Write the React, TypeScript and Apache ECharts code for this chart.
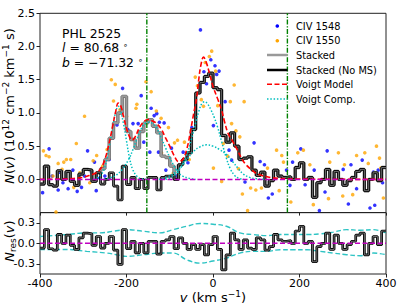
import React, { useEffect, useRef } from 'react';
import * as echarts from 'echarts';

// ---------- data ----------
const binStart = -400;
const binWidth = 10;

// Stacked (No MS) column density per 10 km/s bin, from -400 to 400
const stackedNoMS: number[] = [
  -0.07, 0.2, -0.08, -0.1, 0.13, 0.0, 0.12, -0.03, -0.09, 0.08,
  0.15, 0.14, -0.03, 0.1, -0.07, 0.0, 0.1, -0.1, -0.31, 0.2,
  -0.08, 0.03, -0.14, 0.0, -0.14, 0.03, 0.03, -0.16, 0.03, 0.05,
  0.06, 0.0, 0.22, 0.3, 0.4, 0.75, 1.3, 1.46, 1.55, 1.6,
  1.38, 1.35, 0.66, 0.56, 0.7, 0.5, 0.3, 0.32, 0.34, 0.14,
  0.06, 0.11, -0.1, -0.02, 0.14, 0.05, 0.03, 0.04, 0.0, 0.18,
  0.25, 0.0, 0.03, -0.27, -0.05, 0.0, 0.15, -0.09, 0.12, 0.0,
  -0.09, -0.02, 0.03, 0.12, 0.15, -0.17, 0.0, 0.1, -0.02, 0.18,
];

// Stacked (with MS) column density per bin
const stacked: number[] = [
  -0.07, 0.2, -0.08, -0.1, 0.13, 0.0, 0.12, -0.03, -0.09, 0.08,
  0.15, 0.14, -0.03, 0.1, 0.16, 0.3, 0.62, 0.85, 1.0, 1.25,
  0.72, 0.6, 0.47, 0.72, 0.85, 0.9, 0.8, 0.7, 0.35, 0.33,
  0.2, 0.0, 0.22, 0.3, 0.4, 0.75, 1.3, 1.46, 1.55, 1.6,
  1.38, 1.35, 0.66, 0.56, 0.7, 0.5, 0.3, 0.32, 0.34, 0.14,
  0.06, 0.11, -0.1, -0.02, 0.14, 0.05, 0.03, 0.04, 0.0, 0.18,
  0.25, 0.0, 0.03, -0.27, -0.05, 0.0, 0.15, -0.09, 0.12, 0.0,
  -0.09, -0.02, 0.03, 0.12, 0.15, -0.17, 0.0, 0.1, -0.02, 0.18,
];

// Residuals per bin
const residual: number[] = [
  -0.07, 0.2, -0.08, -0.1, 0.13, 0.0, 0.12, -0.03, -0.09, 0.08,
  0.15, 0.14, -0.03, 0.1, -0.07, 0.0, 0.1, -0.1, -0.31, 0.2,
  -0.08, 0.03, -0.14, 0.0, -0.14, 0.03, 0.03, -0.16, 0.03, 0.05,
  0.1, -0.08, 0.08, 0.0, -0.09, -0.02, -0.09, -0.02, -0.17, -0.02,
  0.1, -0.09, -0.39, -0.17, 0.15, 0.05, -0.09, 0.05, -0.07, -0.09,
  0.08, 0.05, -0.1, -0.05, 0.13, 0.05, 0.03, 0.04, 0.0, 0.18,
  0.25, 0.0, 0.03, -0.27, -0.05, 0.0, 0.15, -0.09, 0.12, 0.0,
  -0.09, -0.02, 0.03, 0.12, 0.15, -0.17, 0.0, 0.1, -0.02, 0.18,
];

// CIV 1548 apparent column density points [v, N]
const civ1548: number[][] = [
  [-394, -0.2], [-379, 0.46], [-372, 0.05], [-358, -0.16], [-355, 0.11], [-347, -0.05],
  [-335, -0.14], [-324, 0.14], [-314, -0.18], [-304, -0.12], [-297, 0.05], [-290, 0.43],
  [-281, 0.11], [-274, 0.26], [-270, -0.17], [-262, 0.02], [-250, 0.05], [-240, 0.3],
  [-232, 0.62], [-222, 0.82], [-209, 1.37], [-197, 0.75], [-185, 0.84], [-173, 0.84],
  [-166, 1.26], [-160, 0.56], [-146, 0.41], [-143, 1.07], [-136, 0.96], [-130, 0.99],
  [-124, 0.86], [-113, 0.85], [-126, 0.41], [-109, 0.14], [-96, 0.47], [-84, 0.05],
  [-69, 0.41], [-58, 0.25], [-49, 0.78], [-29, 2.25], [-21, 1.62], [-15, 1.44],
  [-5, 1.8], [4.6, 1.71], [8.5, 1.58], [14, 1.63], [28, 1.17], [1, 0.81],
  [37, 0.44], [43, 0.29], [74, -0.04], [95, 0.55], [109, 0.27], [119, 0.22],
  [128, -0.28], [137, -0.22], [170, 0.14], [178, -0.09], [184, 0.26], [203, 0.46],
  [213, -0.08], [234, 0.14], [246, -0.47], [259, -0.19], [264, 0.43], [280, 0.02],
  [301, 0.15], [313, -0.37], [319, 0.22], [332, -0.14], [345, 0.29], [363, -0.43],
  [371, 0.11], [374, -0.39], [382, 0.14], [392, -0.05],
];

// CIV 1550 apparent column density points [v, N]
const civ1550: number[][] = [
  [-392, 0.43], [-386, 0.36], [-379, 0.34], [-370, 0.05], [-363, -0.49], [-358, 0.24],
  [-349, 0.15], [-345, 0.26], [-339, 0.3], [-329, 0.3], [-322, -0.12], [-316, 0.54],
  [-308, 0.1], [-297, 0.95], [-285, -0.05], [-277, 0.28], [-269, 0.36], [-255, 0.2],
  [-245, 0.45], [-235, 1.5], [-226, 1.43], [-230, 1.18], [-215, 1.05], [-200, 0.95],
  [-190, 0.6], [-178, 1.07], [-176, 1.13], [-155, 1.47], [-143, 1.32], [-131, 1.03],
  [-120, 0.92], [-119, 0.4], [-103, 0.78], [-92, 0.09], [-89, 0.55], [-82, 0.59],
  [-66, 0.56], [-55, 0.3], [-41, 1.54], [-36, 1.41], [-27, 1.2], [-22, 1.1],
  [-18, 1.76], [-8.5, 1.85], [-3, 1.93], [6, 1.63], [11, 1.11], [40, 1.17],
  [49, 1.42], [72, 1.17], [1, 0.17], [20, -0.03], [24, 0.54], [34, 0.35],
  [43, 0.84], [53, 0.73], [62, 0.64], [59, 0.16], [68, -0.22], [80, -0.47],
  [87, -0.13], [99, -0.16], [112, -0.13], [126, 0.17], [147, 0.44], [153, -0.17],
  [159, 0.36], [163, 0.26], [180, -0.34], [196, 0.4], [209, 0.44], [224, 0.22],
  [232, -0.38], [267, -0.29], [270, 0.26], [290, 0.4], [300, -0.25], [304, 0.22],
  [323, -0.23], [332, 0.36], [351, 0.4], [359, 0.24], [378, 0.5], [385, 0.32],
  [388, 0.17], [394, -0.28],
];

// Voigt model (total)
const voigtModel: number[][] = [
  [-400, 0], [-350, 0.005], [-320, 0.015], [-300, 0.03], [-290, 0.05], [-280, 0.07],
  [-270, 0.1], [-260, 0.16], [-250, 0.3], [-240, 0.55], [-232, 0.8], [-225, 1.02],
  [-219, 1.15], [-213, 1.1], [-206, 0.92], [-200, 0.77], [-193, 0.64], [-187, 0.59],
  [-180, 0.64], [-170, 0.78], [-160, 0.87], [-150, 0.9], [-140, 0.88], [-130, 0.84],
  [-120, 0.76], [-110, 0.63], [-100, 0.5], [-90, 0.36], [-80, 0.27], [-70, 0.3],
  [-60, 0.47], [-52, 0.73], [-45, 0.98], [-38, 1.22], [-33, 1.5], [-28, 1.72],
  [-22, 1.84], [-15, 1.75], [-7, 1.57], [0, 1.4], [12, 1.19], [20, 1.04],
  [27, 0.86], [35, 0.69], [45, 0.58], [55, 0.46], [65, 0.33], [75, 0.23],
  [90, 0.14], [100, 0.09], [113, 0.06], [125, 0.04], [136, 0.025], [150, 0.015],
  [175, 0.008], [200, 0.005], [250, 0.002], [400, 0],
];

// Voigt components
const voigtComp1: number[][] = [
  [-275, 0], [-262, 0.05], [-252, 0.15], [-244, 0.35], [-237, 0.6], [-230, 0.86],
  [-224, 1.04], [-219, 1.1], [-214, 1.04], [-207, 0.84], [-200, 0.58], [-193, 0.32],
  [-185, 0.14], [-175, 0.04], [-165, 0.01], [-150, 0],
];
const voigtComp2: number[][] = [
  [-260, 0], [-240, 0.02], [-225, 0.06], [-210, 0.15], [-195, 0.3], [-185, 0.45],
  [-175, 0.62], [-165, 0.77], [-155, 0.85], [-148, 0.86], [-140, 0.84], [-130, 0.77],
  [-120, 0.63], [-110, 0.48], [-100, 0.33], [-90, 0.2], [-80, 0.1], [-70, 0.05],
  [-55, 0.015], [-40, 0],
];
const voigtComp3: number[][] = [
  [-110, 0], [-100, 0.02], [-88, 0.07], [-75, 0.17], [-62, 0.35], [-50, 0.6],
  [-40, 0.85], [-32, 1.04], [-25, 1.15], [-19, 1.17], [-12, 1.13], [-5, 1.05],
  [3, 0.93], [10, 0.8], [20, 0.57], [30, 0.34], [40, 0.16], [50, 0.06],
  [60, 0.015], [72, 0],
];
const voigtComp4: number[][] = [
  [-125, 0], [-104, 0.04], [-85, 0.12], [-65, 0.26], [-45, 0.42], [-30, 0.49],
  [-15, 0.52], [0, 0.5], [15, 0.45], [30, 0.38], [45, 0.27], [60, 0.15],
  [70, 0.08], [85, 0.03], [100, 0.01], [120, 0],
];

// Residual error envelope
const envUpper: number[][] = [
  [-400, 0.1], [-338, 0.128], [-292, 0.153], [-261, 0.153], [-230, 0.177], [-200, 0.2],
  [-161, 0.177], [-123, 0.153], [-92, 0.2], [-61, 0.25], [-30, 0.29], [0, 0.28],
  [31, 0.25], [62, 0.153], [93, 0.128], [124, 0.113], [155, 0.128], [186, 0.128],
  [217, 0.128], [247, 0.138], [278, 0.163], [309, 0.2], [340, 0.192], [371, 0.2],
  [400, 0.153],
];
const envLower: number[][] = [
  [-400, -0.09], [-338, -0.09], [-292, -0.118], [-246, -0.143], [-223, -0.167],
  [-200, -0.192], [-161, -0.167], [-123, -0.143], [-92, -0.143], [-61, -0.241],
  [-30, -0.29], [0, -0.26], [31, -0.217], [62, -0.143], [93, -0.118], [124, -0.118],
  [155, -0.094], [186, -0.094], [217, -0.094], [247, -0.118], [278, -0.143],
  [309, -0.167], [340, -0.182], [371, -0.143], [400, -0.167],
];

const msBoundaries: number[] = [-153, 172];
const topYTicks: number[] = [0, 0.5, 1, 1.5, 2, 2.5];
const resYTicks: number[] = [-0.3, 0, 0.3];

// ---------- helpers ----------
const toSteps = (vals: number[]) => {
  const d = vals.map((v, i) => [binStart + i * binWidth, v]);
  d.push([binStart + vals.length * binWidth, vals[vals.length - 1]]);
  return d;
};

const FONT = 'DejaVu Sans';
const C_CYAN = '#00bfbf';
const C_MAG = '#bf00bf';

export default function App() {
  const ref = useRef<HTMLDivElement>(null);
  useEffect(() => {
    if (!ref.current) return;
    const chart = echarts.init(ref.current, undefined, { renderer: 'svg' });

    const gL = 40, gW = 346, gT = 13.3, gH1 = 199.3, gH2 = 61.4;

    const axisCommon = {
      axisLine: { show: false, onZero: false },
      splitLine: { show: false },
    };

    const lineSeries = (name: string, data: number[][], style: any, extra: any = {}) => ({
      type: 'line', name, data, showSymbol: false, symbol: 'none',
      lineStyle: style, silent: true, ...extra,
    });

    const comps = [voigtComp1, voigtComp2, voigtComp3, voigtComp4].map((c, i) =>
      lineSeries('Voigt Comp.' + i, c, { color: C_CYAN, width: 1.5, type: [1.5, 1.8] }, { smooth: 0.4, z: 4 }));

    const option: any = {
      animation: false,
      grid: [
        { left: gL, top: gT, width: gW, height: gH1, show: true, borderColor: '#222', borderWidth: 1, backgroundColor: 'transparent' },
        { left: gL, top: gT + gH1, width: gW, height: gH2, show: true, borderColor: '#222', borderWidth: 1, backgroundColor: 'transparent' },
      ],
      xAxis: [
        {
          gridIndex: 0, type: 'value', position: 'bottom', min: -400, max: 400, interval: 200, ...axisCommon,
          axisTick: { show: true, length: 3, lineStyle: { color: '#222' } },
          axisLabel: { show: false },
        },
        {
          gridIndex: 1, type: 'value', position: 'bottom', min: -400, max: 400, interval: 200, ...axisCommon,
          axisTick: { show: true, length: 3.5, lineStyle: { color: '#222' } },
          axisLabel: { show: true, color: '#000', fontFamily: FONT, fontSize: 11, margin: 4 },
        },
      ],
      yAxis: [
        {
          gridIndex: 0, type: 'value', position: 'left', min: -0.5, max: 2.5, ...axisCommon,
          axisTick: { show: true, length: 3.5, customValues: topYTicks, lineStyle: { color: '#222' } },
          axisLabel: { show: true, customValues: topYTicks, color: '#000', fontFamily: FONT, fontSize: 11, margin: 5,
            formatter: (v: number) => v.toFixed(1) },
        },
        {
          gridIndex: 1, type: 'value', position: 'left', min: -0.45, max: 0.45, ...axisCommon,
          axisTick: { show: true, length: 3.5, customValues: resYTicks, lineStyle: { color: '#222' } },
          axisLabel: { show: true, customValues: resYTicks, color: '#000', fontFamily: FONT, fontSize: 11, margin: 5,
            formatter: (v: number) => v.toFixed(1) },
        },
      ],
      series: [
        { type: 'scatter', name: 'CIV 1548', data: civ1548, symbol: 'circle', symbolSize: 3.6, itemStyle: { color: '#0000ff' }, z: 2, silent: true },
        { type: 'scatter', name: 'CIV 1550', data: civ1550, symbol: 'circle', symbolSize: 3.6, itemStyle: { color: '#ffa500' }, z: 2, silent: true },
        lineSeries('stacked-edge', toSteps(stacked), { color: '#6a6a6a', width: 3.4 }, { step: 'end', z: 3 }),
        lineSeries('Stacked', toSteps(stacked), { color: '#999999', width: 2.0 }, { step: 'end', z: 3 }),
        lineSeries('Stacked (No MS)', toSteps(stackedNoMS), { color: '#000', width: 2.7 }, { step: 'end', z: 3 }),
        lineSeries('noms-core', toSteps(stackedNoMS), { color: '#8a8a8a', width: 0.8 }, { step: 'end', z: 3 }),
        lineSeries('Voigt Model', voigtModel, { color: '#ff0000', width: 1.6, type: [5, 2.5] }, { smooth: 0.4, z: 5 }),
        ...comps,
        lineSeries('zero', [[-400, 0], [400, 0]], { color: C_MAG, width: 1.5, type: [5, 2.5] }, { z: 6 }),
        ...msBoundaries.map((v, i) =>
          lineSeries('ms' + i, [[v, -0.5], [v, 2.5]], { color: '#008000', width: 1.4, type: [5, 1.6, 1.2, 1.6] }, { z: 6 })),
        // residual panel
        lineSeries('env-up', envUpper, { color: '#2ec4c4', width: 1.4, type: [5, 2.5] }, { smooth: 0.4, xAxisIndex: 1, yAxisIndex: 1, z: 3 }),
        lineSeries('env-lo', envLower, { color: '#2ec4c4', width: 1.4, type: [5, 2.5] }, { smooth: 0.4, xAxisIndex: 1, yAxisIndex: 1, z: 3 }),
        lineSeries('res', toSteps(residual), { color: '#000', width: 2.7 }, { step: 'end', xAxisIndex: 1, yAxisIndex: 1, z: 4 }),
        lineSeries('res-core', toSteps(residual), { color: '#8a8a8a', width: 0.8 }, { step: 'end', xAxisIndex: 1, yAxisIndex: 1, z: 4 }),
        lineSeries('res-zero', [[-400, 0], [400, 0]], { color: C_MAG, width: 1.5, type: [5, 2.5] }, { xAxisIndex: 1, yAxisIndex: 1, z: 6 }),
      ],
      graphic: [] as any[],
    };

    // annotation text
    const txt = (x: number, y: number, text: string, rich: any, size: number, align = 'left') => ({
      type: 'text', x, y, silent: true, z: 100,
      style: { text, rich, fontFamily: FONT, fontSize: size, fill: '#000', align, verticalAlign: 'middle' },
    });
    const annRich = {
      i: { fontFamily: FONT, fontSize: 12.4, fontStyle: 'italic', fill: '#000' },
      n: { fontFamily: FONT, fontSize: 12.4, fill: '#000' },
      d: { fontFamily: FONT, fontSize: 8, fill: '#000', verticalAlign: 'top', lineHeight: 8 },
    };
    option.graphic.push(txt(62, 33, 'PHL 2525', annRich, 12.4));
    option.graphic.push(txt(62, 47.5, '{i|l}{n| = 80.68 }{d|∘}', annRich, 12.4));
    option.graphic.push(txt(62, 62, '{i|b}{n| = −71.32 }{d|∘}', annRich, 12.4));

    // legend
    const legY = [26, 40.7, 55, 70, 84.3, 99];
    const legText = ['CIV 1548', 'CIV 1550', 'Stacked', 'Stacked (No MS)', 'Voigt Model', 'Voigt Comp.'];
    const lx0 = 267, lx1 = 287.5;
    option.graphic.push({ type: 'circle', shape: { cx: 277.3, cy: legY[0], r: 1.8 }, style: { fill: '#0000ff' }, z: 100 });
    option.graphic.push({ type: 'circle', shape: { cx: 277.3, cy: legY[1], r: 1.8 }, style: { fill: '#ffa500' }, z: 100 });
    option.graphic.push({ type: 'line', shape: { x1: lx0, y1: legY[2], x2: lx1, y2: legY[2] }, style: { stroke: '#999999', lineWidth: 2.5 }, z: 100 });
    option.graphic.push({ type: 'line', shape: { x1: lx0, y1: legY[3], x2: lx1, y2: legY[3] }, style: { stroke: '#000', lineWidth: 2.5 }, z: 100 });
    option.graphic.push({ type: 'line', shape: { x1: lx0, y1: legY[4], x2: lx1, y2: legY[4] }, style: { stroke: '#ff0000', lineWidth: 1.6, lineDash: [5, 2.5] }, z: 100 });
    option.graphic.push({ type: 'line', shape: { x1: lx0, y1: legY[5], x2: lx1, y2: legY[5] }, style: { stroke: C_CYAN, lineWidth: 1.5, lineDash: [1.5, 1.8] }, z: 100 });
    legText.forEach((t, i) => option.graphic.push(txt(296, legY[i], t, undefined, 9.8)));

    // axis titles
    const yRich = {
      i: { fontFamily: FONT, fontSize: 13, fontStyle: 'italic', fill: '#000', lineHeight: 16 },
      n: { fontFamily: FONT, fontSize: 13, fill: '#000', lineHeight: 16 },
      s: { fontFamily: FONT, fontSize: 9, fill: '#000', verticalAlign: 'top', lineHeight: 9 },
      b: { fontFamily: FONT, fontSize: 9, fill: '#000', verticalAlign: 'bottom', lineHeight: 9 },
    };
    option.graphic.push({
      type: 'text', x: 9, y: 106, rotation: Math.PI / 2, silent: true, z: 100,
      style: { text: '{i|N}{n|(}{i|v}{n|) (10}{s|12}{n| cm}{s|−2}{n| km}{s|−1}{n| s)}', rich: yRich, align: 'center', verticalAlign: 'middle' },
    });
    option.graphic.push({
      type: 'text', x: 9, y: 241, rotation: Math.PI / 2, silent: true, z: 100,
      style: { text: '{i|N}{b|res}{n|(}{i|v}{n|)}', rich: yRich, align: 'center', verticalAlign: 'middle' },
    });
    option.graphic.push({
      type: 'text', x: 213, y: 297, silent: true, z: 100,
      style: { text: '{i|v}{n| (km s}{s|−1}{n|)}', rich: yRich, align: 'center', verticalAlign: 'middle' },
    });

    chart.setOption(option);
    return () => chart.dispose();
  }, []);

  return <div ref={ref} style={{ width: 407, height: 305, position: 'absolute', left: 0, top: 0 }} />;
}
